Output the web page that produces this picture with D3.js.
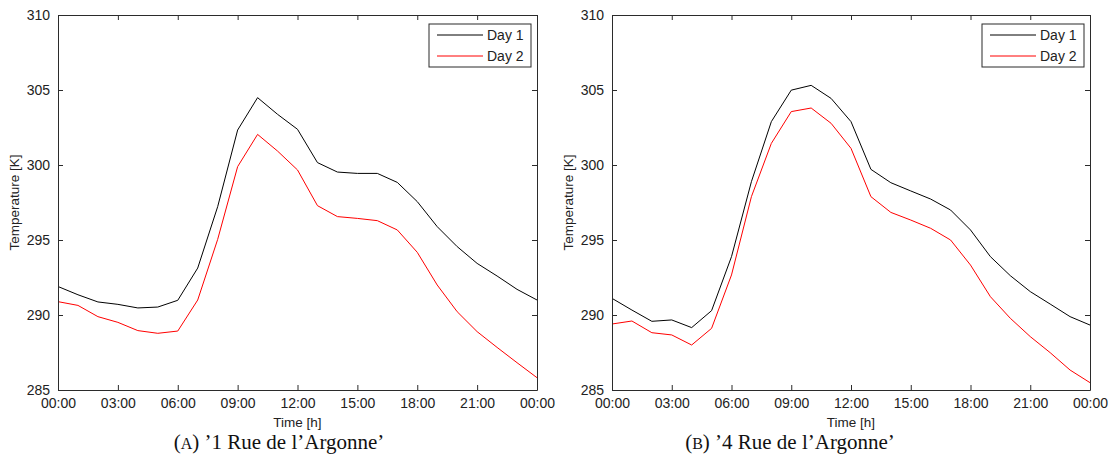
<!DOCTYPE html>
<html>
<head>
<meta charset="utf-8">
<script src="https://cdn.jsdelivr.net/npm/d3@7"></script>
<style>
  body { margin: 0; background: #fff; }
  svg { display: block; }
</style>
</head>
<body>
<svg id="chart" width="1109" height="474"></svg>
<script>
// Hourly samples, 00:00 of day to 00:00 of next day
const hours = d3.range(0, 25);

// (A) '1 Rue de l'Argonne'
const argonne1Day1 = [291.9, 291.35, 290.87, 290.71, 290.47, 290.53, 290.98, 293.13, 297.22, 302.33,
    304.49, 303.38, 302.38, 300.16, 299.53, 299.44, 299.44, 298.84, 297.56, 295.89,
    294.56, 293.44, 292.6, 291.71, 291.0];
const argonne1Day2 = [290.89, 290.64, 289.89, 289.51, 288.96, 288.78, 288.93, 291.0, 295.04, 299.89,
    302.04, 300.93, 299.67, 297.29, 296.56, 296.44, 296.29, 295.67, 294.18, 292.0,
    290.22, 288.89, 287.84, 286.82, 285.82];

// (B) '4 Rue de l'Argonne'
const argonne4Day1 = [291.11, 290.33, 289.58, 289.67, 289.16, 290.29, 293.89, 298.89, 302.89, 304.99,
    305.31, 304.44, 302.89, 299.71, 298.82, 298.27, 297.73, 297.0, 295.67, 293.89,
    292.62, 291.56, 290.73, 289.89, 289.33];
const argonne4Day2 = [289.4, 289.6, 288.82, 288.67, 288.0, 289.11, 292.67, 297.89, 301.44, 303.56,
    303.8, 302.78, 301.11, 297.89, 296.84, 296.33, 295.78, 295.0, 293.33, 291.22,
    289.78, 288.56, 287.49, 286.33, 285.49];

const xTickHours = [0, 3, 6, 9, 12, 15, 18, 21, 24];
const xTickLabels = ["00:00", "03:00", "06:00", "09:00", "12:00", "15:00", "18:00", "21:00", "00:00"];
const yTicks = [285, 290, 295, 300, 305, 310];
const seriesNames = ["Day 1", "Day 2"];
const seriesColors = ["#000000", "#ff0000"];

const AXIS_COLOR = "#2b2b2b";
const TICK_LEN = 5;
const LABEL_FONT = "'Liberation Sans', Arial, sans-serif";

const svg = d3.select("#chart");

const panels = [
    { left: 58, right: 537, capX: 279, caption: "A", title: "\u20191 Rue de l\u2019Argonne\u2019", series: [argonne1Day1, argonne1Day2] },
    { left: 612, right: 1090, capX: 790, caption: "B", title: "\u20194 Rue de l\u2019Argonne\u2019", series: [argonne4Day1, argonne4Day2] }
];
const plotTop = 15, plotBottom = 390;

panels.forEach(p => {
    const x = d3.scaleLinear().domain([0, 24]).range([p.left, p.right]);
    const y = d3.scaleLinear().domain([285, 310]).range([plotBottom, plotTop]);
    const g = svg.append("g");

    // curves
    const line = d3.line().x((d, i) => x(hours[i])).y(d => y(d));
    p.series.forEach((s, k) => {
        g.append("path")
            .datum(s)
            .attr("d", line)
            .attr("fill", "none")
            .attr("stroke", seriesColors[k])
            .attr("stroke-width", 1);
    });

    // box with inward ticks on all four sides
    const axB = d3.axisBottom(x).tickValues(xTickHours).tickSizeInner(-TICK_LEN).tickSizeOuter(0)
        .tickFormat((d, i) => xTickLabels[i]);
    const axT = d3.axisTop(x).tickValues(xTickHours).tickSizeInner(-TICK_LEN).tickSizeOuter(0).tickFormat("");
    const axL = d3.axisLeft(y).tickValues(yTicks).tickSizeInner(-TICK_LEN).tickSizeOuter(0);
    const axR = d3.axisRight(y).tickValues(yTicks).tickSizeInner(-TICK_LEN).tickSizeOuter(0).tickFormat("");

    const gb = g.append("g").attr("transform", `translate(0,${plotBottom})`).call(axB);
    const gt = g.append("g").attr("transform", `translate(0,${plotTop})`).call(axT);
    const gl = g.append("g").attr("transform", `translate(${p.left},0)`).call(axL);
    const gr = g.append("g").attr("transform", `translate(${p.right},0)`).call(axR);
    [gb, gt, gl, gr].forEach(a => {
        a.select(".domain").attr("stroke", AXIS_COLOR);
        a.selectAll(".tick line").attr("stroke", AXIS_COLOR);
        a.selectAll("text").attr("fill", "#222").attr("font-family", LABEL_FONT).attr("font-size", 14);
    });
    gb.selectAll("text").attr("y", 8).attr("dy", "0.71em");
    gl.selectAll("text").attr("x", -8);

    // axis titles
    g.append("text")
        .attr("x", (p.left + p.right) / 2).attr("y", 427)
        .attr("text-anchor", "middle")
        .attr("font-family", LABEL_FONT).attr("font-size", 13.5).attr("fill", "#222")
        .text("Time [h]");
    g.append("text")
        .attr("transform", `translate(${p.left - 44},${(plotTop + plotBottom) / 2}) rotate(-90)`)
        .attr("text-anchor", "middle")
        .attr("dy", "0.35em")
        .attr("font-family", LABEL_FONT).attr("font-size", 13.5).attr("fill", "#222")
        .text("Temperature [K]");

    // legend
    const lg = g.append("g").attr("transform", `translate(${p.right - 108},24)`);
    lg.append("rect")
        .attr("x", 0).attr("y", 0).attr("width", 102).attr("height", 43)
        .attr("fill", "#fff").attr("stroke", AXIS_COLOR).attr("stroke-width", 1);
    seriesNames.forEach((name, k) => {
        const yy = 11 + k * 21;
        lg.append("line")
            .attr("x1", 8).attr("x2", 54).attr("y1", yy).attr("y2", yy)
            .attr("stroke", seriesColors[k]).attr("stroke-width", 1);
        lg.append("text")
            .attr("x", 58).attr("y", yy).attr("dy", "0.35em")
            .attr("font-family", LABEL_FONT).attr("font-size", 14).attr("fill", "#222")
            .text(name);
    });

    // caption
    const cap = svg.append("text")
        .attr("x", p.capX).attr("y", 449)
        .attr("text-anchor", "middle")
        .attr("font-family", "'Liberation Serif', 'DejaVu Serif', serif")
        .attr("font-size", 21).attr("fill", "#111");
    cap.append("tspan").text("(");
    cap.append("tspan").attr("font-size", 16).text(p.caption);
    cap.append("tspan").text(") " + p.title);
});
</script>
</body>
</html>
